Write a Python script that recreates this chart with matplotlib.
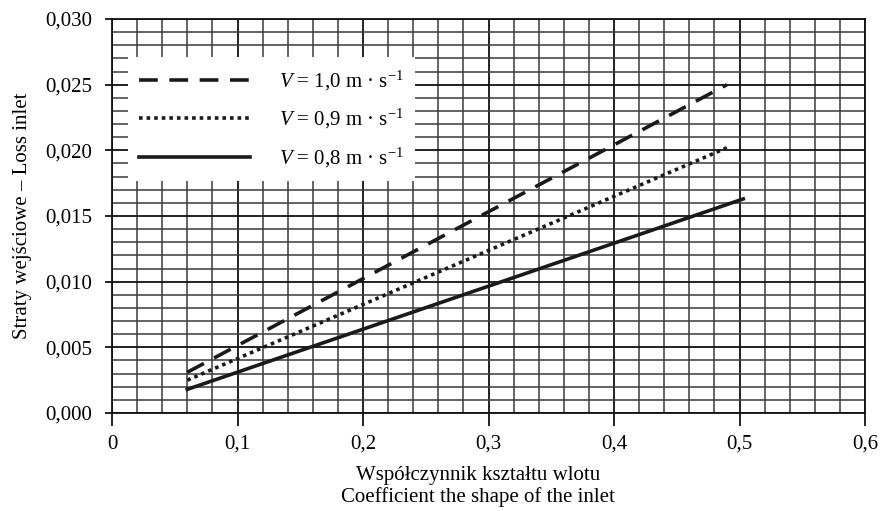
""" inlet loss vs shape coefficient """
import matplotlib
matplotlib.use("Agg")
import matplotlib.pyplot as plt
from matplotlib.ticker import MultipleLocator, FixedLocator, FixedFormatter

plt.rcParams['font.family'] = ['Liberation Serif', 'DejaVu Serif']
plt.rcParams['mathtext.fontset'] = 'custom'
plt.rcParams['mathtext.rm'] = 'Liberation Serif'
plt.rcParams['mathtext.it'] = 'Liberation Serif:italic'

# data
x_v10 = [0.06, 0.49]
y_v10 = [0.0031, 0.0250]
x_v09 = [0.06, 0.49]
y_v09 = [0.0025, 0.0202]
x_v08 = [0.06, 0.503]
y_v08 = [0.0018, 0.0163]

labels = ["$V$ = 1,0 m · s$^{-1}$", "$V$ = 0,9 m · s$^{-1}$", "$V$ = 0,8 m · s$^{-1}$"]

x_ticks = [0, 0.1, 0.2, 0.3, 0.4, 0.5, 0.6]
x_ticklabels = ['0', '0,1', '0,2', '0,3', '0,4', '0,5', '0,6']
y_ticks = [0, 0.005, 0.010, 0.015, 0.020, 0.025, 0.030]
y_ticklabels = ['0,000', '0,005', '0,010', '0,015', '0,020', '0,025', '0,030']

fig = plt.figure(figsize=(8.83, 5.11), dpi=100)
ax = fig.add_axes([112 / 883, 1 - 413 / 511, 753 / 883, 394 / 511])

lw = 2.6
ax.plot(x_v10, y_v10, color='#1a1a1a', lw=lw, dashes=(5.2, 3.2), label=labels[0], zorder=4)
ax.plot(x_v09, y_v09, color='#1a1a1a', lw=lw, dashes=(1.0, 1.1), label=labels[1], zorder=4)
ax.plot(x_v08, y_v08, color='#1a1a1a', lw=lw, label=labels[2], zorder=4)

ax.set_xlim(0, 0.6)
ax.set_ylim(0, 0.030)
ax.xaxis.set_major_locator(FixedLocator(x_ticks))
ax.xaxis.set_major_formatter(FixedFormatter(x_ticklabels))
ax.yaxis.set_major_locator(FixedLocator(y_ticks))
ax.yaxis.set_major_formatter(FixedFormatter(y_ticklabels))
ax.xaxis.set_minor_locator(MultipleLocator(0.02))
ax.yaxis.set_minor_locator(MultipleLocator(0.001))

ax.grid(which='major', color='#111111', lw=1.3)
ax.grid(which='minor', color='#3a3a3a', lw=1.1)
ax.set_axisbelow(True)

ax.tick_params(axis='x', which='major', direction='out', length=9, width=1.3,
               pad=6.5, labelsize=15, color='#111111')
ax.tick_params(axis='y', which='major', direction='out', length=5, width=1.3,
               pad=9, labelsize=15, color='#111111')
ax.tick_params(which='minor', length=0)
for sp in ax.spines.values():
    sp.set_color('#111111')
    sp.set_linewidth(1.3)

ax.set_xlabel('Współczynnik kształtu wlotu\nCoefficient the shape of the inlet',
              fontsize=15, linespacing=1.1, va='center')
ax.xaxis.set_label_coords(0.486, -0.187)
ax.set_ylabel('Straty wejściowe – Loss inlet', fontsize=15, labelpad=10)

leg = ax.legend(loc='upper left', bbox_to_anchor=(0.0212, 0.9036), borderaxespad=0,
                fontsize=15, frameon=True, fancybox=False, facecolor='white',
                edgecolor='none', framealpha=1, handlelength=5.3, handletextpad=1.4,
                labelspacing=0.7, borderpad=0.55)
leg.set_zorder(5)

fig.savefig('out.png', dpi=100)
